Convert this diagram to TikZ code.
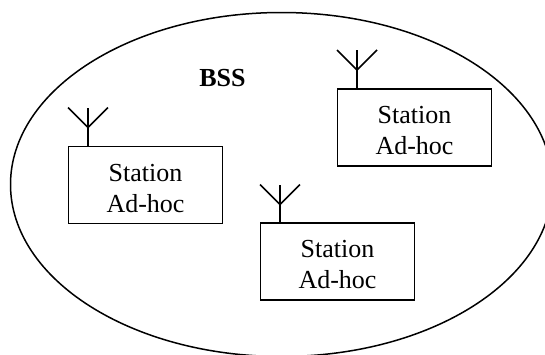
\documentclass[tikz,border=0pt]{standalone}
\usepackage{fontspec}
\setmainfont{Liberation Serif}
\usetikzlibrary{shapes.geometric}
\tikzset{
  stationtext/.style={inner sep=0pt,align=center,font=\fontsize{26}{31}\selectfont,yshift=-3.5pt},
  stationbox/.style={draw=black,line width=1.6pt,minimum width=154pt,minimum height=77pt,inner sep=0pt,
    label={[stationtext]center:Station\\Ad-hoc}},
  cell/.style={draw=black,line width=1.5pt,ellipse,minimum width=542pt,minimum height=344pt,inner sep=0pt},
  antenna/.style={draw=black,line width=1.6pt},
  title/.style={inner sep=0pt,font=\fontsize{26}{31}\selectfont\bfseries}
}
\begin{document}
\begin{tikzpicture}[x=1pt,y=-1pt]
\useasboundingbox (0,0) rectangle (545,354);
\clip (0,0) rectangle (545,354);
\fill[white] (0,0) rectangle (545,354);
\node[cell] (bss) at (281.5,184.5) {};
\node[title] (label) at (222.5,78) {BSS};
\node[stationbox] (s1) at (145.5,185) {};
\node[stationbox] (s2) at (414.5,127.5) {};
\node[stationbox] (s3) at (337.5,261.5) {};
\foreach \s/\x/\y in {s1/88/146.5,s2/357/89,s3/280/223.5}{
  \coordinate (\s f) at (\x,\y-19);
  \coordinate (\s t) at (\x,\y-39);
  \coordinate (\s l) at (\x-20,\y-39);
  \coordinate (\s r) at (\x+20,\y-39);
  \coordinate (\s b) at (\x,\y);
  \draw[antenna] (\s b) -- (\s t);
  \draw[antenna] (\s l) -- (\s f) -- (\s r);
}
\end{tikzpicture}
\end{document}
